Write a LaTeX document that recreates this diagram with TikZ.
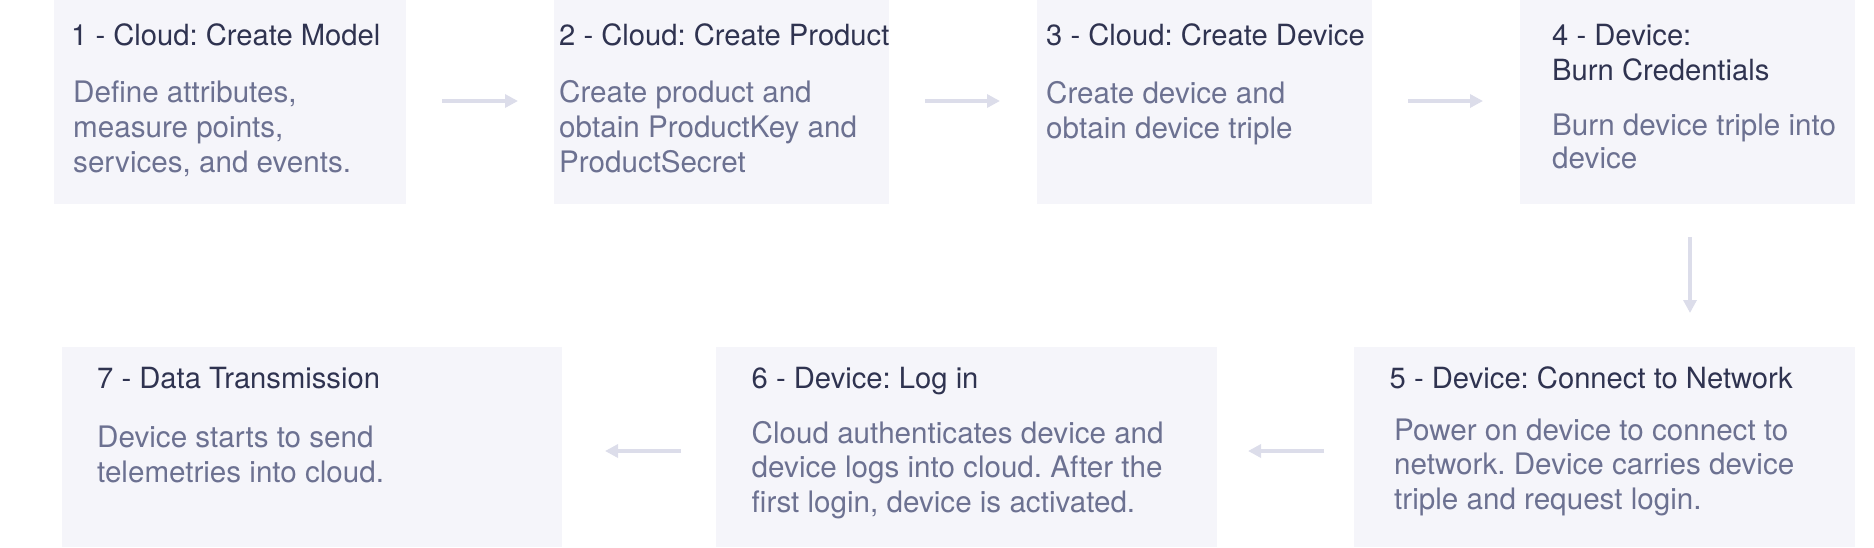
\documentclass[tikz,border=0pt]{standalone}
\usepackage{fontspec}
\setmainfont{TeX Gyre Heros}
\usetikzlibrary{arrows.meta}
\definecolor{boxfill}{HTML}{F5F5FA}
\definecolor{titlecol}{HTML}{2F3350}
\definecolor{bodycol}{HTML}{6C7191}
\definecolor{arrcol}{HTML}{DCDDEA}
\frenchspacing
\begin{document}
\begin{tikzpicture}[x=1pt,y=-1pt,
  box/.style={rectangle, fill=boxfill, draw=none, inner sep=0pt, outer sep=0pt, anchor=north west},
  ttl/.style={anchor=base west, inner sep=0pt, text=titlecol, font=\fontsize{29.2}{34}\selectfont},
  bdy/.style={anchor=base west, inner sep=0pt, text=bodycol, font=\fontsize{29.6}{34}\selectfont},
  arr/.style={draw=arrcol, line width=4pt, -{Triangle[length=13pt,width=13pt]}}]
\useasboundingbox (0,0) rectangle (1874,547);
% boxes
\node[box, minimum width=352pt, minimum height=204pt] (box1) at (54,0) {};
\node[box, minimum width=335pt, minimum height=204pt] (box2) at (554,0) {};
\node[box, minimum width=335pt, minimum height=204pt] (box3) at (1037,0) {};
\node[box, minimum width=335pt, minimum height=204pt] (box4) at (1520,0) {};
\node[box, minimum width=500pt, minimum height=200pt] (box7) at (62,347) {};
\node[box, minimum width=501pt, minimum height=200pt] (box6) at (716,347) {};
\node[box, minimum width=501pt, minimum height=200pt] (box5) at (1354,347) {};
% box 1
\node[ttl] (t1) at (71,45) {1 - Cloud: Create Model};
\node[bdy] (b1a) at (73,102) {Define attributes,};
\node[bdy] (b1b) at (73,137) {measure points,};
\node[bdy] (b1c) at (73,172) {services, and events.};
% box 2
\node[ttl] (t2) at (559,45) {2 - Cloud: Create Product};
\node[bdy] (b2a) at (559,102) {Create product and};
\node[bdy] (b2b) at (559,137) {obtain ProductKey and};
\node[bdy] (b2c) at (559,172) {ProductSecret};
% box 3
\node[ttl] (t3) at (1046,45) {3 - Cloud: Create Device};
\node[bdy] (b3a) at (1046,103) {Create device and};
\node[bdy] (b3b) at (1046,138) {obtain device triple};
% box 4
\node[ttl] (t4a) at (1552,45.5) {4 - Device:};
\node[ttl] (t4b) at (1552,80) {Burn Credentials};
\node[bdy] (b4a) at (1552,135) {Burn device triple into};
\node[bdy] (b4b) at (1552,168) {device};
% box 7
\node[ttl] (t7) at (97,388.5) {7 - Data Transmission};
\node[bdy] (b7a) at (97,447) {Device starts to send};
\node[bdy] (b7b) at (97,482) {telemetries into cloud.};
% box 6
\node[ttl] (t6) at (751.5,388) {6 - Device: Log in};
\node[bdy] (b6a) at (751.5,443) {Cloud authenticates device and};
\node[bdy] (b6b) at (751.5,477.5) {device logs into cloud. After the};
\node[bdy] (b6c) at (751.5,512.5) {first login, device is activated.};
% box 5
\node[ttl] (t5) at (1389.5,388) {5 - Device: Connect to Network};
\node[bdy] (b5a) at (1394,440) {Power on device to connect to};
\node[bdy] (b5b) at (1394,474.5) {network. Device carries device};
\node[bdy] (b5c) at (1394,509) {triple and request login.};
% arrows
\draw[arr, shorten <=36pt, shorten >=36pt] ([yshift=1pt]box1.east) -- ([yshift=1pt]box2.west);
\draw[arr, shorten <=36pt, shorten >=37pt] ([yshift=1pt]box2.east) -- ([yshift=1pt]box3.west);
\draw[arr, shorten <=36pt, shorten >=37pt] ([yshift=1pt]box3.east) -- ([yshift=1pt]box4.west);
\draw[arr, shorten <=33pt, shorten >=34pt] ([xshift=2.5pt]box4.south) -- ([xshift=2.5pt]box4.south |- box5.north);
\draw[arr, shorten <=30pt, shorten >=31pt] ([yshift=-4pt]box5.west) -- ([yshift=-4pt]box6.east);
\draw[arr, shorten <=35pt, shorten >=43pt] ([yshift=-4pt]box6.west) -- ([yshift=-4pt]box7.east);
\end{tikzpicture}
\end{document}
